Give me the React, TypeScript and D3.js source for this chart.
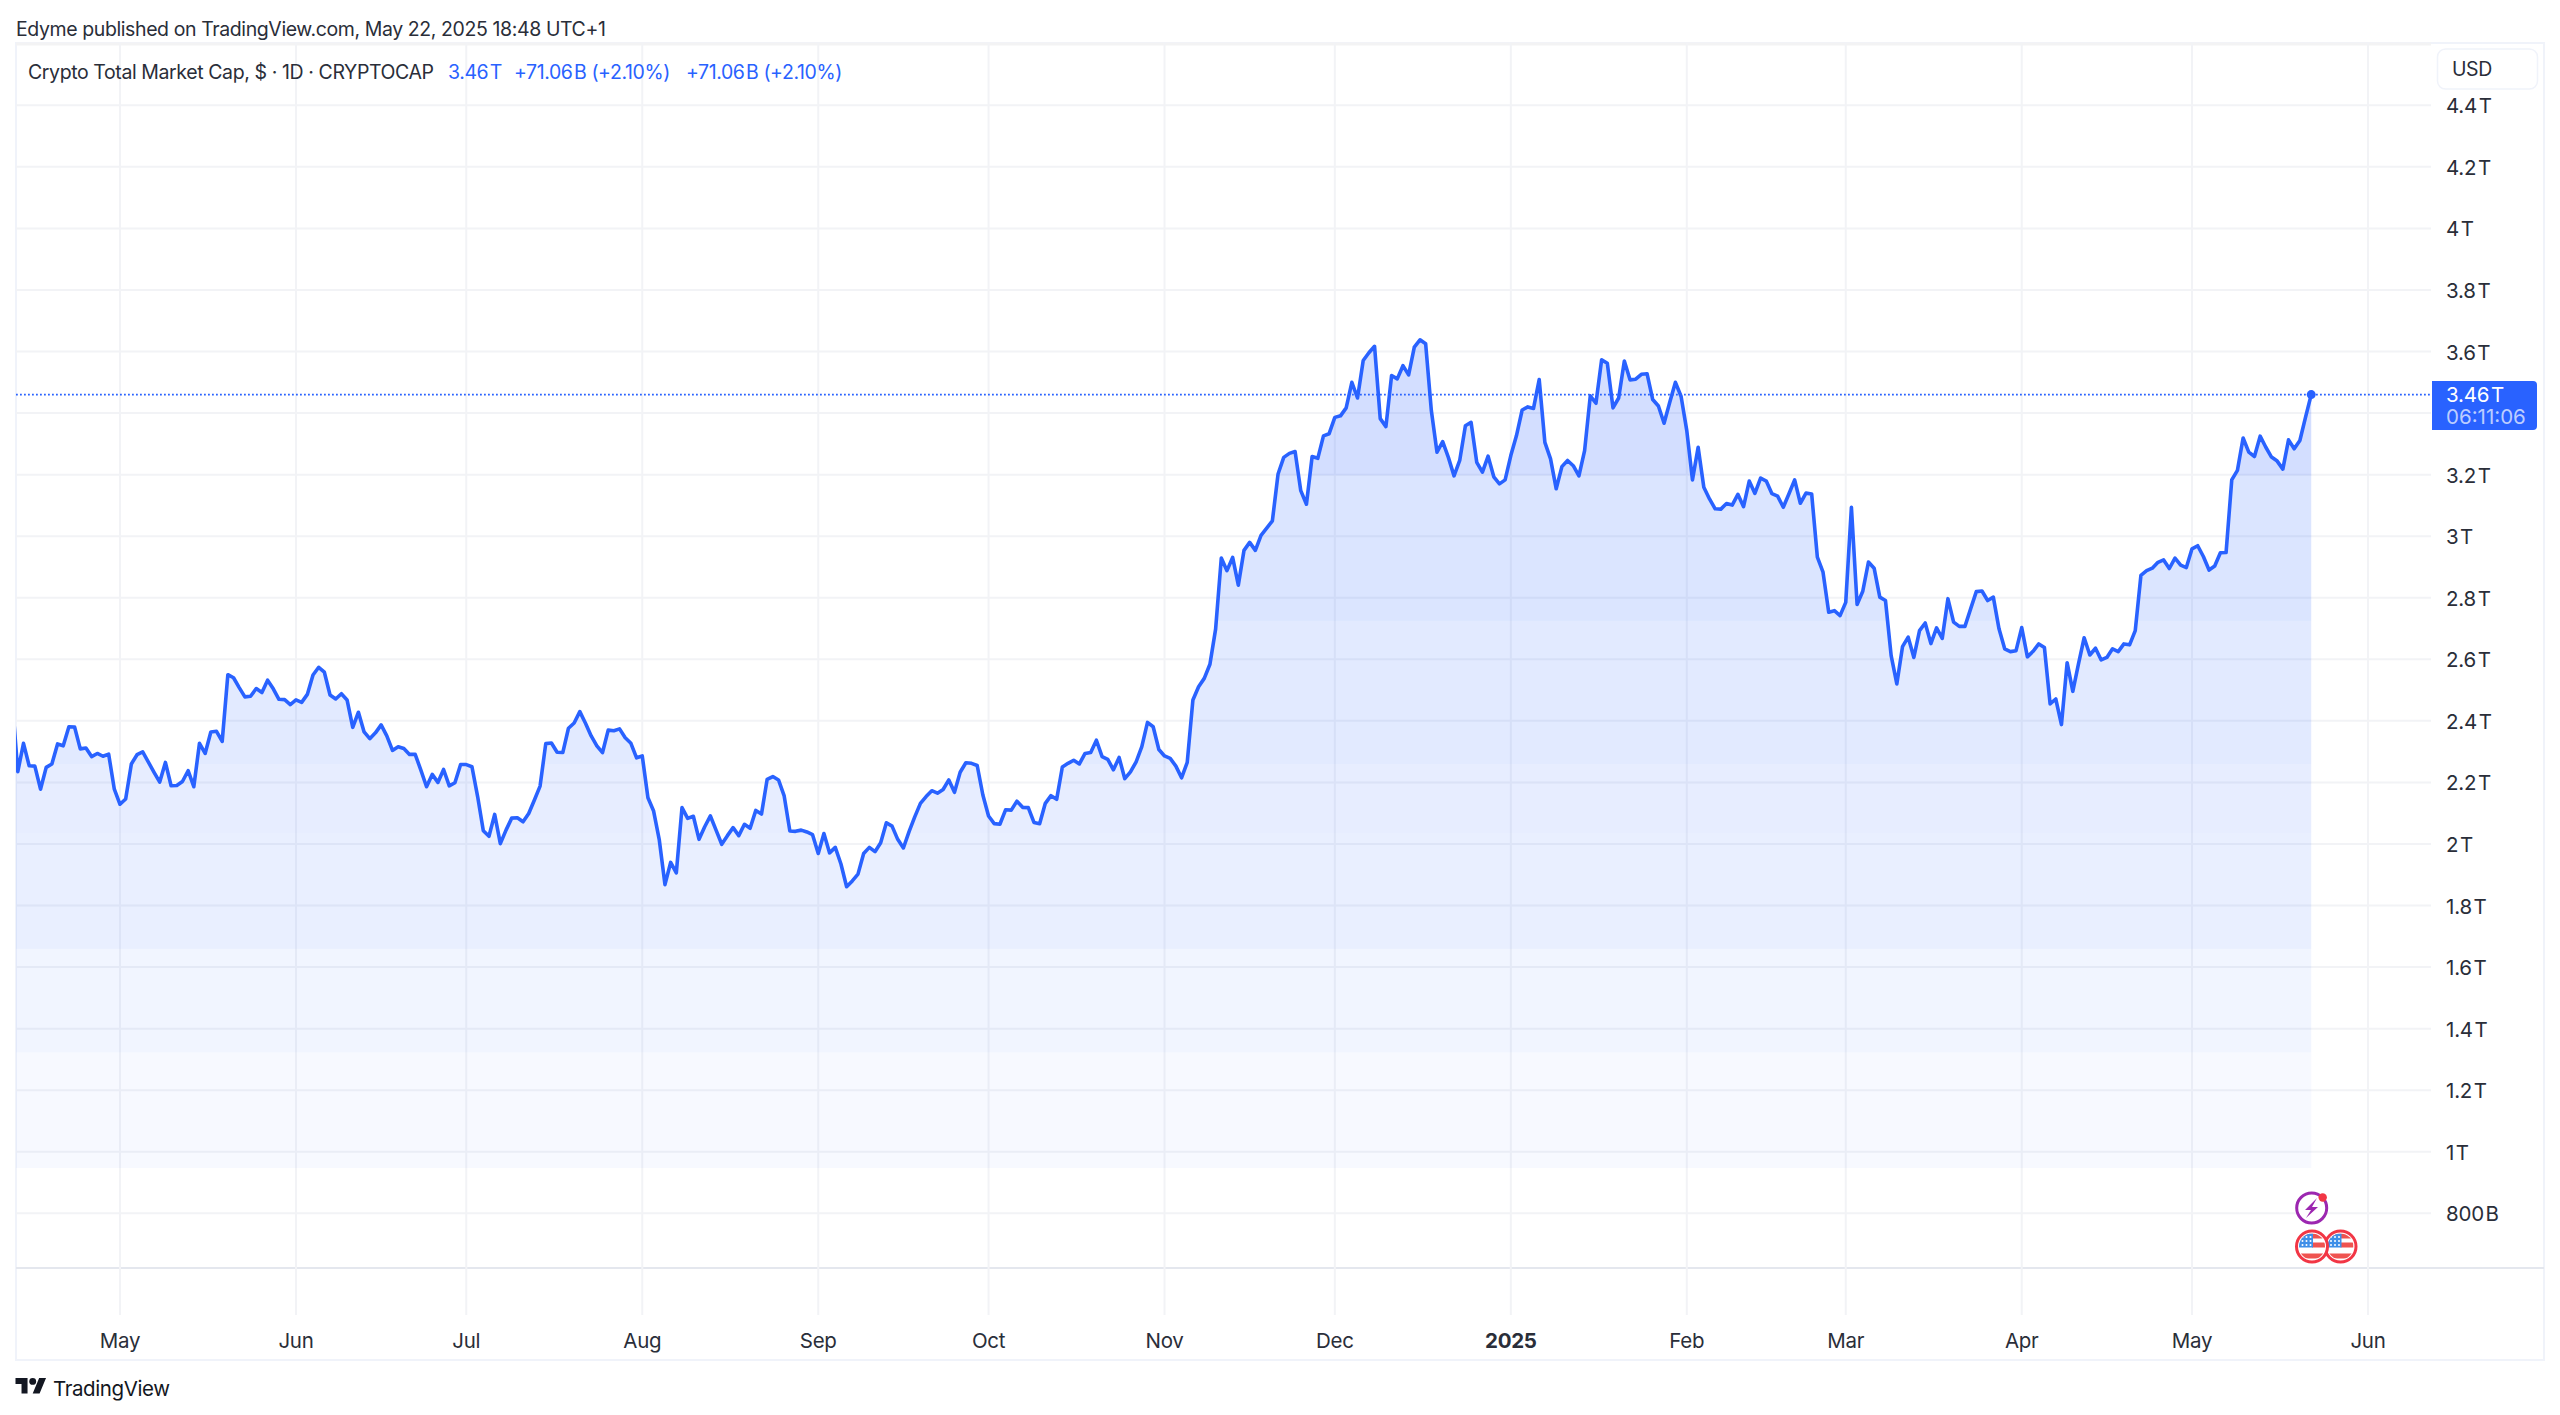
import React from "react";
import * as d3 from "d3";

const apr2024 = [2.470,2.235,2.327,2.254,2.253,2.178,2.249,2.260,2.325,2.319,2.381,2.380,2.309,2.312,2.284,2.294,2.285,2.292,2.178];
const may2024 = [2.129,2.146,2.260,2.290,2.299,2.266,2.233,2.201,2.265,2.189,2.190,2.203,2.238,2.186,2.327,2.294,2.364,2.366,2.333,2.550,2.540,2.508,2.478,2.480,2.505,2.492,2.532,2.504,2.470,2.469,2.453];
const jun2024 = [2.468,2.460,2.486,2.549,2.574,2.558,2.484,2.471,2.488,2.468,2.379,2.428,2.364,2.342,2.361,2.387,2.351,2.304,2.316,2.310,2.291,2.291,2.240,2.186,2.226,2.200,2.242,2.189,2.199,2.258];
const jul2024 = [2.258,2.251,2.154,2.043,2.025,2.096,2.001,2.045,2.084,2.085,2.072,2.099,2.143,2.188,2.326,2.328,2.298,2.297,2.376,2.393,2.430,2.392,2.351,2.319,2.297,2.370,2.368,2.374,2.345,2.327,2.280];
const aug2024 = [2.286,2.150,2.107,2.013,1.868,1.940,1.906,2.118,2.083,2.090,2.015,2.056,2.091,2.045,1.999,2.027,2.053,2.027,2.064,2.051,2.109,2.097,2.210,2.219,2.208,2.156,2.042,2.041,2.045,2.039,2.030];
const sep2024 = [1.969,2.034,1.971,1.989,1.935,1.861,1.880,1.902,1.969,1.989,1.975,2.004,2.069,2.058,2.015,1.987,2.040,2.088,2.132,2.154,2.173,2.165,2.177,2.208,2.168,2.233,2.264,2.262,2.255,2.159];
const oct2024 = [2.091,2.066,2.064,2.111,2.110,2.139,2.119,2.118,2.070,2.066,2.132,2.157,2.145,2.250,2.262,2.272,2.260,2.294,2.297,2.337,2.284,2.275,2.241,2.281,2.212,2.234,2.267,2.316,2.395,2.381,2.307];
const nov2024 = [2.286,2.278,2.253,2.215,2.265,2.468,2.511,2.538,2.584,2.698,2.929,2.888,2.931,2.841,2.954,2.980,2.954,3.003,3.026,3.050,3.202,3.256,3.269,3.275,3.148,3.104,3.259,3.253,3.326,3.333];
const dec2024 = [3.386,3.391,3.417,3.500,3.449,3.571,3.596,3.617,3.382,3.356,3.522,3.511,3.554,3.524,3.614,3.638,3.625,3.408,3.273,3.307,3.256,3.196,3.246,3.359,3.370,3.240,3.208,3.260,3.193,3.170,3.183];
const jan2025 = [3.262,3.327,3.410,3.420,3.415,3.509,3.305,3.251,3.154,3.226,3.246,3.229,3.196,3.278,3.456,3.432,3.573,3.562,3.417,3.449,3.569,3.508,3.510,3.526,3.528,3.444,3.423,3.367,3.435,3.500,3.454];
const feb2025 = [3.343,3.183,3.289,3.159,3.121,3.089,3.088,3.106,3.101,3.136,3.096,3.179,3.139,3.189,3.179,3.138,3.130,3.094,3.138,3.183,3.107,3.140,3.137,2.932,2.883,2.753,2.758,2.742];
const mar2025 = [2.785,3.094,2.778,2.821,2.916,2.896,2.802,2.791,2.612,2.520,2.641,2.672,2.606,2.693,2.718,2.651,2.702,2.668,2.797,2.721,2.707,2.707,2.764,2.820,2.822,2.791,2.802,2.699,2.634,2.625,2.628];
const apr2025 = [2.703,2.608,2.626,2.650,2.638,2.455,2.471,2.388,2.589,2.496,2.585,2.670,2.614,2.636,2.598,2.606,2.634,2.625,2.650,2.647,2.693,2.873,2.888,2.896,2.915,2.923,2.895,2.929,2.906,2.898];
const may2025 = [2.959,2.969,2.934,2.890,2.903,2.946,2.947,3.183,3.214,3.319,3.273,3.259,3.325,3.289,3.257,3.244,3.218,3.313,3.284,3.311,3.387,3.460];

const closes = [...apr2024,...may2024,...jun2024,...jul2024,...aug2024,...sep2024,...oct2024,...nov2024,...dec2024,...jan2025,...feb2025,...mar2025,...apr2025,...may2025];
const firstDay = Date.UTC(2024, 3, 12);
const DAY = 86400000;
const series = closes.map((v, i) => ({ t: new Date(firstDay + i * DAY), v }));

const priceTicks = [4.4,4.2,4.0,3.8,3.6,3.4,3.2,3.0,2.8,2.6,2.4,2.2,2.0,1.8,1.6,1.4,1.2,1.0,0.8];
const priceLabels = ["4.4\u200aT","4.2\u200aT","4\u200aT","3.8\u200aT","3.6\u200aT","","3.2\u200aT","3\u200aT","2.8\u200aT","2.6\u200aT","2.4\u200aT","2.2\u200aT","2\u200aT","1.8\u200aT","1.6\u200aT","1.4\u200aT","1.2\u200aT","1\u200aT","800\u200aB"];
const monthTicks = [[2024,4,"May"],[2024,5,"Jun"],[2024,6,"Jul"],[2024,7,"Aug"],[2024,8,"Sep"],[2024,9,"Oct"],[2024,10,"Nov"],[2024,11,"Dec"],[2025,0,"2025"],[2025,1,"Feb"],[2025,2,"Mar"],[2025,3,"Apr"],[2025,4,"May"],[2025,5,"Jun"]] as [number,number,string][];
// gradient step boundaries in price (T) and their opacity
const bandEdges = [4.4,3.197,2.725,2.26,2.036,1.659,1.323,0.946];
const bandAlpha = [0.206,0.168,0.135,0.112,0.103,0.065,0.037];

const BLUE = "#2962ff";
const FONT = "Inter, 'Noto Sans', sans-serif";
const INK = "#2a2e39";
const GRID = "#f2f3f6";

const L = 16, R = 2431, FR = 2544, TOP = 43, SEP = 1268, BOT = 1360;
const x = d3.scaleUtc().domain([new Date(Date.UTC(2024,4,1)), new Date(Date.UTC(2025,5,1))]).range([120, 2368]);
const y = d3.scaleLinear().domain([4.4, 0.8]).range([105.3, 1213.3]);
const base = bandEdges[bandEdges.length - 1];

const linePath = d3.line<{t:Date;v:number}>().x(d => x(d.t)).y(d => y(d.v))(series)!;
const areaPath = d3.area<{t:Date;v:number}>().x(d => x(d.t)).y0(y(base)).y1(d => y(d.v))(series)!;
const last = series[series.length - 1];

function Flag({ cx, cy }: { cx: number; cy: number }) {
  const id = `flag${cx}`;
  return (
    <g>
      <clipPath id={id}><circle cx={cx} cy={cy} r={13} /></clipPath>
      <circle cx={cx} cy={cy} r={15.5} fill="#fff" stroke="#f23645" strokeWidth={3} />
      <g clipPath={`url(#${id})`}>
        <rect x={cx-13} y={cy-13} width={26} height={5} fill="#ef5350" />
        <rect x={cx} y={cy-4} width={13} height={5} fill="#ef5350" />
        <rect x={cx-13} y={cy+7} width={26} height={5} fill="#ef5350" />
        <rect x={cx-13} y={cy-13} width={14} height={14} fill="#3f8fe8" />
        {[0,1,2].map(r => [0,1,2].map(c => (
          <circle key={`${r}${c}`} cx={cx-9.5+c*4} cy={cy-9.5+r*4} r={1} fill="#fff" />
        )))}
      </g>
    </g>
  );
}

const body = { fontSize: 19.5, letterSpacing: -0.4 };

export default function App() {
  return (
    <svg width={2560} height={1415} viewBox="0 0 2560 1415"
      style={{ position: "absolute", left: 0, top: 0, display: "block", background: "#fff" }}
      fontFamily={FONT}>
      <defs>
        <clipPath id="pane"><rect x={L} y={TOP} width={R - L} height={SEP - TOP} /></clipPath>
        <clipPath id="under"><path d={areaPath} /></clipPath>
      </defs>

      <text x={16} y={35.5} {...body} fill={INK}>Edyme published on TradingView.com, May 22, 2025 18:48 UTC+1</text>

      {/* frame */}
      <rect x={L} y={TOP} width={FR - L} height={BOT - TOP} fill="none" stroke="#f0f3fa" strokeWidth={2} />
      <line x1={L} x2={R} y1={TOP + 1} y2={TOP + 1} stroke="#f3f3f4" strokeWidth={3} />
      <line x1={L} x2={FR} y1={SEP} y2={SEP} stroke="#e4e7ee" strokeWidth={2} />

      {/* grid */}
      {priceTicks.map(v => (
        <line key={v} x1={L} x2={R} y1={y(v)} y2={y(v)} stroke={GRID} strokeWidth={2} />
      ))}
      {monthTicks.map(([yr, m]) => {
        const px = x(new Date(Date.UTC(yr, m, 1)));
        return <line key={`${yr}-${m}`} x1={px} x2={px} y1={TOP} y2={1315} stroke={GRID} strokeWidth={2} />;
      })}

      {/* stepped area */}
      <g clipPath="url(#pane)">
        <g clipPath="url(#under)">
          {bandAlpha.map((a, i) => (
            <rect key={i} x={L} width={R - L} y={y(bandEdges[i])} height={y(bandEdges[i + 1]) - y(bandEdges[i])}
              fill={`rgba(41,98,255,${a})`} />
          ))}
        </g>
        <line x1={L} x2={R} y1={y(last.v)} y2={y(last.v)} stroke={BLUE} strokeWidth={1.8} strokeDasharray="1.8 2.2" />
        <path d={linePath} fill="none" stroke={BLUE} strokeWidth={3.6} strokeLinejoin="round" strokeLinecap="round" />
        <circle cx={x(last.t)} cy={y(last.v)} r={4.5} fill={BLUE} />
      </g>

      {/* legend */}
      <text x={28} y={79} {...body} fill={INK}>Crypto Total Market Cap, $ · 1D · CRYPTOCAP</text>
      <text x={448} y={79} {...body} fill={BLUE}>3.46{"\u200a"}T</text>
      <text x={514} y={79} {...body} fill={BLUE}>+71.06{"\u200a"}B (+2.10%)</text>
      <text x={686} y={79} {...body} fill={BLUE}>+71.06{"\u200a"}B (+2.10%)</text>

      {/* price axis */}
      <rect x={2437.5} y={49} width={100} height={40} rx={8} fill="#fff" stroke="#f0f3fa" strokeWidth={1.5} />
      <text x={2452} y={76} {...body} fill={INK}>USD</text>
      {priceTicks.map((v, i) => priceLabels[i] && (
        <text key={v} x={2446} y={y(v) + 8} fontSize={20.5} letterSpacing={-0.2} fill={INK}>{priceLabels[i]}</text>
      ))}
      <path d="M2432 381H2533a4 4 0 0 1 4 4V426a4 4 0 0 1 -4 4H2432Z" fill={BLUE} />
      <text x={2446} y={401.5} fontSize={20.5} letterSpacing={-0.2} fill="#fff">3.46{"\u200a"}T</text>
      <text x={2446} y={424} fontSize={20.5} fill="#fff" fillOpacity={0.7}>06:11:06</text>

      {/* time axis */}
      {monthTicks.map(([yr, m, label]) => (
        <text key={`${yr}-${m}-t`} x={x(new Date(Date.UTC(yr, m, 1)))} y={1347.5} fontSize={20.5} letterSpacing={-0.3} textAnchor="middle"
          fill={INK} fontWeight={label === "2025" ? 700 : 400}>{label}</text>
      ))}

      {/* event icons */}
      <circle cx={2311.7} cy={1208} r={15} fill="#fff" stroke="#9c27b0" strokeWidth={3} />
      <path d="M2317 1198l-12 12h6l-5 8 12-11h-6z" fill="#9c27b0" />
      <circle cx={2322.7} cy={1197.5} r={4.2} fill="#f23645" />
      <Flag cx={2340.5} cy={1246.5} />
      <Flag cx={2312} cy={1246.5} />

      {/* footer logo */}
      <g transform="translate(15.5,1374.5) scale(0.86)" fill="#131722">
        <path d="M14 22H7V11H0V4h14v18zM28 22h-8l7.5-18h8L28 22z" />
        <circle cx={20} cy={8} r={4} />
      </g>
      <text x={53} y={1395.5} fontSize={20.5} letterSpacing={-0.4} fill="#131722">TradingView</text>
    </svg>
  );
}
